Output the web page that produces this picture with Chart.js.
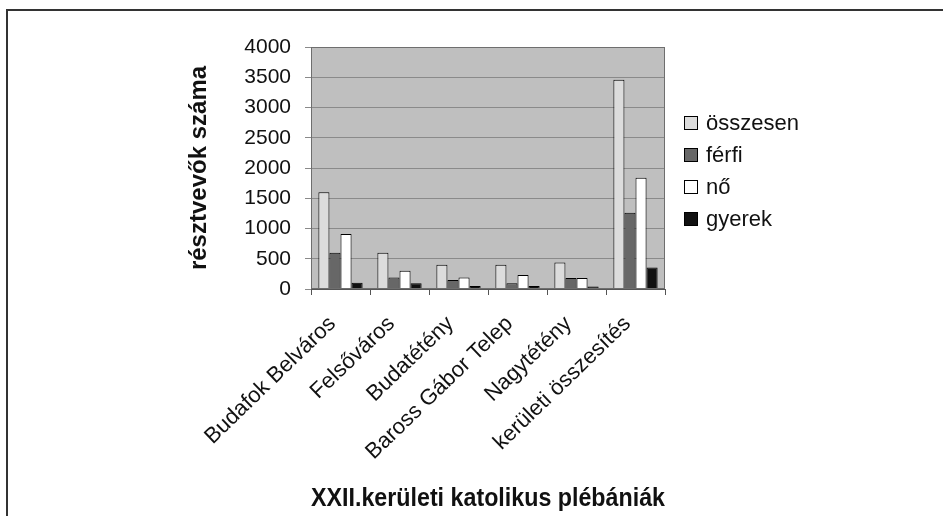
<!DOCTYPE html>
<html lang="hu">
<head>
    <meta charset="UTF-8">
    <title>XXII.kerületi katolikus plébániák</title>
    <style>
        body { margin: 0; background: #fff; }
        .frame { position: absolute; left: 6px; top: 9px; width: 937px; height: 507px;
                 border-top: 2px solid #333; border-left: 2px solid #333; }
        #chart { position: absolute; left: 0; top: 0; }
    </style>
</head>
<body>
    <div class="frame"></div>
    <canvas id="chart" width="943" height="516"></canvas>

    <script src="https://cdn.jsdelivr.net/npm/chart.js"></script>
    <script>
        const categories = ['Budafok Belváros', 'Felsőváros', 'Budatétény', 'Baross Gábor Telep', 'Nagytétény', 'kerületi összesítés'];
        const osszesen = [1600, 600, 400, 400, 440, 3460];
        const ferfi = [600, 190, 150, 95, 180, 1260];
        const no = [910, 300, 190, 230, 180, 1840];
        const gyerek = [105, 95, 50, 50, 40, 355];
        const yTicks = [0, 500, 1000, 1500, 2000, 2500, 3000, 3500, 4000];

        const font = 'Liberation Sans, Arial, sans-serif';

        // gray plot area with a thin border, like the old office charts
        const plotBg = {
            id: 'plotBg',
            beforeDraw(chart) {
                const { ctx, chartArea: a } = chart;
                ctx.save();
                ctx.fillStyle = '#bfbfbf';
                ctx.fillRect(a.left, a.top, a.right - a.left, a.bottom - a.top);
                ctx.restore();
            },
            afterDatasetsDraw(chart) {
                const { ctx, chartArea: a } = chart;
                ctx.save();
                ctx.strokeStyle = '#6e6e6e';
                ctx.lineWidth = 1;
                ctx.strokeRect(a.left + 0.5, a.top + 0.5, a.right - a.left - 1, a.bottom - a.top - 1);
                ctx.restore();
            }
        };

        // legend drawn at a fixed spot to the right of the plot
        const sideLegend = {
            id: 'sideLegend',
            afterDraw(chart) {
                const ctx = chart.ctx;
                const x = 684, y0 = 123, step = 32, box = 14;
                ctx.save();
                ctx.font = '22px ' + font;
                ctx.textBaseline = 'middle';
                chart.data.datasets.forEach((ds, i) => {
                    const y = y0 + i * step;
                    ctx.fillStyle = ds.backgroundColor;
                    ctx.fillRect(x, y - box / 2, box, box);
                    ctx.strokeStyle = '#000';
                    ctx.lineWidth = 1;
                    ctx.strokeRect(x + 0.5, y - box / 2 + 0.5, box - 1, box - 1);
                    ctx.fillStyle = '#111';
                    ctx.fillText(ds.label, x + 22, y + 1);
                });
                ctx.restore();
            }
        };

        const bar = (label, data, color) => ({
            label, data,
            backgroundColor: color,
            borderColor: '#000',
            borderWidth: 1,
            categoryPercentage: 0.75,
            barPercentage: 1.0
        });

        new Chart(document.getElementById('chart'), {
            type: 'bar',
            data: {
                labels: categories,
                datasets: [
                    bar('összesen', osszesen, '#dcdcdc'),
                    bar('férfi', ferfi, '#676767'),
                    bar('nő', no, '#ffffff'),
                    bar('gyerek', gyerek, '#111111')
                ]
            },
            options: {
                responsive: false,
                animation: false,
                layout: { padding: { left: 178, right: 278, top: 47, bottom: 0 } },
                plugins: { legend: { display: false }, tooltip: { enabled: false } },
                scales: {
                    x: {
                        grid: { offset: true, drawOnChartArea: false, color: '#555', tickLength: 6 },
                        border: { color: '#555' },
                        ticks: {
                            autoSkip: false, minRotation: 44, maxRotation: 44, padding: 16,
                            labelOffset: -8,
                            color: '#111', font: { family: font, size: 22 }
                        },
                        title: {
                            display: true, text: 'XXII.kerületi katolikus plébániák',
                            color: '#111', font: { family: font, size: 25, weight: 'bold' },
                            padding: { top: 0, bottom: 2 }
                        },
                        afterFit(scale) { scale.height = 516 - 289; }
                    },
                    y: {
                        min: 0, max: 4000,
                        afterBuildTicks(scale) { scale.ticks = yTicks.map(v => ({ value: v })); },
                        grid: { color: '#8a8a8a', tickLength: 6 },
                        border: { color: '#555' },
                        ticks: {
                            padding: 14, color: '#111', font: { family: font, size: 21 },
                            callback: v => String(v)
                        },
                        title: {
                            display: true, text: 'résztvevők száma',
                            color: '#111', font: { family: font, size: 24, weight: 'bold' },
                            padding: { top: 7, bottom: 0 }
                        },
                        afterFit(scale) { scale.width = 311 - 178; }
                    }
                }
            },
            plugins: [plotBg, sideLegend]
        });
    </script>
</body>
</html>
